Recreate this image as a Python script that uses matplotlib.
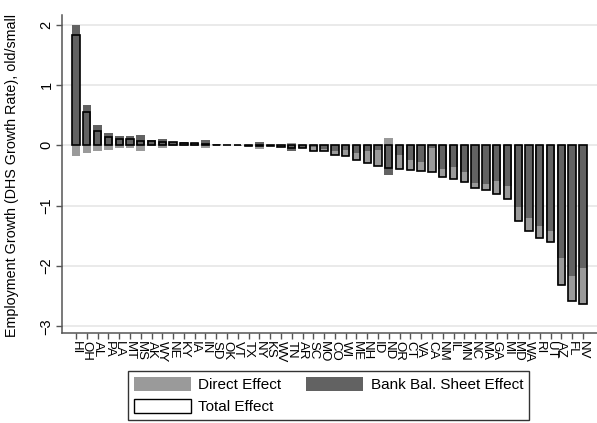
import numpy as np
import matplotlib.pyplot as plt
from matplotlib.patches import Patch

plt.rcParams['font.family'] = ['Liberation Sans', 'DejaVu Sans']

states = ["HI", "OH", "AL", "PA", "LA", "MT", "MS", "AK", "WY", "NE", "KY", "IA",
          "IN", "SD", "OK", "VT", "TX", "NY", "KS", "WV", "TN", "AR", "SC", "MO",
          "CO", "WI", "ME", "NH", "ID", "ND", "OR", "CT", "VA", "CA", "NM", "IL",
          "MN", "NC", "MA", "GA", "MI", "MD", "WA", "RI", "UT", "AZ", "FL", "NV"]

bank_effect = [2.00, 0.67, 0.33, 0.21, 0.15, 0.15, 0.17, 0.08, 0.10, 0.06, 0.05, 0.045,
               0.08, 0.02, 0.01, 0.005, -0.01, 0.05, -0.015, -0.03, -0.09, -0.04, -0.02, -0.06,
               -0.10, -0.08, -0.12, -0.10, -0.08, -0.50, -0.16, -0.25, -0.28, -0.05, -0.40, -0.36,
               -0.44, -0.62, -0.64, -0.59, -0.67, -1.03, -1.20, -1.34, -1.42, -1.86, -2.16, -2.03]

direct_effect = [-0.17, -0.12, -0.09, -0.07, -0.04, -0.05, -0.10, -0.01, -0.04, -0.01, -0.01, -0.01,
                 -0.05, -0.01, 0.0, -0.005, 0.0, -0.06, 0.0, 0.0, 0.04, 0.0, -0.07, -0.04,
                 -0.06, -0.09, -0.13, -0.19, -0.26, 0.12, -0.23, -0.16, -0.14, -0.40, -0.13, -0.19,
                 -0.17, -0.09, -0.10, -0.22, -0.22, -0.23, -0.22, -0.19, -0.18, -0.46, -0.42, -0.60]

total_effect = [1.83, 0.55, 0.24, 0.14, 0.11, 0.10, 0.07, 0.07, 0.06, 0.05, 0.04, 0.035,
                0.03, 0.01, 0.01, 0.0, -0.01, -0.01, -0.015, -0.03, -0.05, -0.04, -0.09, -0.10,
                -0.16, -0.17, -0.25, -0.29, -0.34, -0.38, -0.39, -0.41, -0.42, -0.45, -0.53, -0.55,
                -0.61, -0.71, -0.74, -0.81, -0.89, -1.26, -1.42, -1.53, -1.60, -2.32, -2.58, -2.63]

light = '#9a9a9a'
dark = '#626262'

fig = plt.figure(figsize=(5.97, 4.23), dpi=100)
ax = fig.add_axes([0.1039, 0.2128, 0.896, 0.7518])

x = np.arange(len(states))
bank = np.array(bank_effect)
direct = np.array(direct_effect)
# direct effect stacks on the bank effect when both point the same way
direct_base = np.where(np.sign(direct) == np.sign(bank), bank, 0.0)

ax.bar(x, bank, width=0.8, color=dark, zorder=2)
ax.bar(x, direct, bottom=direct_base, width=0.8, color=light, zorder=2)
ax.bar(x, total_effect, width=0.68, facecolor='none', edgecolor='black', linewidth=1.2, zorder=3)

ax.set_xlim(-1.3, len(states) - 1 + 1.3)
ax.set_ylim(-3.11, 2.16)
ax.set_yticks([-3, -2, -1, 0, 1, 2])
ax.yaxis.grid(True, color='#e6e6e6', linewidth=1.2, zorder=0)
ax.set_axisbelow(True)

ax.set_xticks(x)
ax.set_xticklabels(states, rotation=-90, fontsize=9.5)
for lab in ax.get_yticklabels():
    lab.set_rotation(90)
    lab.set_va('center')
ax.tick_params(axis='y', labelsize=10.5, length=4, width=1, color='#555555', pad=2)
ax.tick_params(axis='x', length=4, width=1, color='#555555', pad=2)

for side in ['top', 'right']:
    ax.spines[side].set_visible(False)
for side in ['left', 'bottom']:
    ax.spines[side].set_color('#555555')
    ax.spines[side].set_linewidth(1.1)

ax.set_ylabel('Employment Growth (DHS Growth Rate), old/small', fontsize=10.3)
ax.yaxis.set_label_coords(-0.080, 0.494)

handles = [Patch(facecolor=light, edgecolor='none', label='Direct Effect'),
           Patch(facecolor='white', edgecolor='black', linewidth=1, label='Total Effect'),
           Patch(facecolor=dark, edgecolor='none', label='Bank Bal. Sheet Effect')]
leg = fig.legend(handles=handles, ncol=2, loc='upper center', bbox_to_anchor=(0.5503, 0.1225),
                 fontsize=11, frameon=True, fancybox=False, edgecolor='black',
                 handlelength=3.7, handleheight=1.0, handletextpad=0.52, columnspacing=1.6,
                 labelspacing=0.45, borderpad=0.4, borderaxespad=0)
leg.get_frame().set_linewidth(1.0)

fig.savefig('out.png', dpi=100)
